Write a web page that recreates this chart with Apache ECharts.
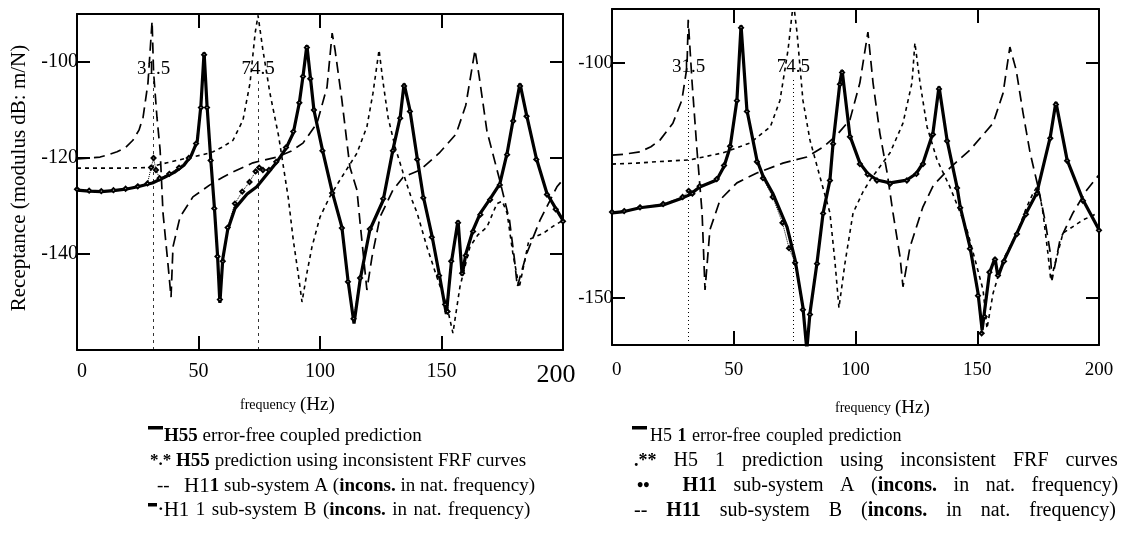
<!DOCTYPE html>
<html><head><meta charset="utf-8">
<script src="https://cdn.jsdelivr.net/npm/echarts@6/dist/echarts.min.js"></script>
<style>html,body{margin:0;padding:0;background:#fff}#c{width:1130px;height:543px}</style>
</head><body><div id="c"></div><script>
// ---------- data (frequency Hz, receptance dB) ----------
const xTicks = [0, 50, 100, 150, 200];
const leftYTicks = [-140, -120, -100];
const rightYTicks = [-150, -100];
const markFreqs = ['31.5', '74.5'];

// Left panel: H55
const h55Exact = [[0,-126.7],[5,-126.9],[10,-127],[15,-126.8],[20,-126.5],[25,-126],[31,-125.2],[36,-124],[40,-123],[44,-121.5],[47,-119.5],[49.5,-116.5],[51,-109],[52.3,-98],[53.5,-109],[55,-120],[56.5,-130],[57.8,-140],[58.8,-150.2],[60,-141],[62,-135],[65,-130.5],[70,-127.5],[74,-126],[78,-123.5],[82,-121],[86,-118],[89,-114.8],[91.5,-108.5],[93,-103],[94.6,-96.5],[96,-103],[97.5,-110],[101,-118.3],[105,-127],[109,-134.4],[111.5,-145.4],[114,-154.5],[116.5,-145.4],[120.5,-135],[126,-128.8],[130,-118.3],[133,-111.5],[134.6,-104.5],[137,-110],[140,-120],[142.5,-128],[146,-136],[149,-144],[152,-152.5],[154,-142],[156.8,-133],[158.5,-144.5],[160,-140],[163,-135],[166,-131.5],[170,-128.5],[174,-125.4],[177,-119],[179.5,-112],[182.3,-104.5],[185,-111],[189,-120],[193.4,-127.4],[197,-130.5],[200,-133]];
const h55Incons = [[0,-126.5],[5,-126.8],[10,-126.9],[15,-126.7],[20,-126.4],[25,-125.9],[29,-125.3],[30.5,-122],[31.5,-120],[32.5,-122.5],[34,-124.2],[38,-123.3],[42,-122],[46,-120],[49,-117],[51,-109.5],[52.3,-98.5],[53.5,-109.5],[55,-120.5],[56.5,-130.5],[57.8,-140.5],[58.8,-149.5],[60,-141.5],[62,-134.5],[65,-129.5],[68,-127],[71,-125],[73.5,-122.8],[75,-122],[76.5,-122.5],[79,-122.5],[82,-120.8],[86,-117.8],[89,-114.5],[91.5,-108.5],[93,-103],[94.6,-97],[96,-103.5],[97.5,-110],[101,-118.5],[105,-127.3],[109,-134.6],[111.5,-145.8],[113.8,-153.5],[116.5,-145],[120.5,-134.8],[126,-128.5],[130,-118.5],[133,-111.7],[134.6,-105],[137,-110.3],[140,-120.3],[142.5,-128.3],[146,-136.5],[149,-144.5],[151.5,-150.5],[152.5,-152],[154,-141.5],[156.8,-133.5],[158.5,-144],[160,-140.3],[163,-135.3],[166,-131.8],[170,-128.7],[174,-125.6],[177,-119.3],[179.5,-112.3],[182.3,-105],[185,-111.3],[189,-120.3],[193.4,-127.6],[197,-130.7],[200,-133.2]];
const h11ALeft = [[0,-122.1],[10,-122.1],[20,-122.1],[28,-122],[32,-121.6],[37,-121],[45.3,-120],[52,-119.3],[56,-118.7],[60,-117.7],[64.2,-116.3],[68.3,-112.1],[71.2,-104.4],[73.3,-94],[74.5,-90.3],[76.5,-97.5],[79.4,-106.5],[83,-115.5],[85,-122],[87,-128.5],[89,-137.1],[91,-144],[92.6,-150],[94.6,-144],[96.7,-138.5],[100,-132.3],[104,-128.1],[108.2,-124.6],[115.2,-119],[119.3,-113.5],[121.8,-106.5],[124.3,-97.5],[126,-104.4],[128,-111.5],[130.9,-117.7],[134.2,-123.1],[137.9,-128.8],[140,-131.5],[144,-138.5],[148.1,-144.8],[152.3,-151],[154.7,-156.5],[157.6,-146.8],[161.7,-138.5],[165,-136],[168.7,-134.4],[172.8,-129.5],[175,-129],[177,-131.5],[179.4,-140],[182,-147],[186,-137],[191.8,-135.7],[196,-134.2],[200,-133]];
const h11BLeft = [[0,-120.2],[5,-120],[9.5,-119.8],[13,-119.3],[16.5,-118.7],[20,-117.8],[23,-116.3],[25.5,-114.2],[27.2,-111.5],[29.2,-104.4],[30.9,-91.5],[31.5,-102],[32.9,-111.5],[34.2,-118.3],[35.4,-131.5],[37.4,-141.9],[38.7,-149],[39.5,-138.5],[42.4,-132.3],[47.7,-128.1],[54.7,-125.6],[60,-124],[64.2,-122.9],[72.4,-121],[82.3,-119.8],[88,-118.6],[93,-116.9],[98.8,-112.7],[102.9,-105.2],[105,-94],[106.2,-97.5],[109,-107.9],[112.3,-121.9],[115.2,-126.7],[116.5,-133.5],[119.3,-147.5],[121.4,-140.6],[124.7,-132.3],[130,-126.7],[134.2,-124],[141.2,-122.5],[149,-119],[156,-115],[160,-109],[163.8,-97.5],[165.5,-103],[168.7,-114.4],[174,-124.7],[178,-133],[180,-141],[181.2,-146.8],[185,-140],[190.5,-133],[197.5,-126],[200,-124.5]];

// Right panel: H51
const h51Exact = [[0,-131.9],[5,-131.6],[11.5,-130.8],[21,-130.2],[29,-128.7],[32,-128],[36,-126.4],[43,-124.9],[46,-122],[48.5,-117.9],[51.3,-107.9],[53,-92],[55.4,-110],[59.5,-120.6],[62,-124],[66,-127.7],[71.9,-134.9],[75.2,-141.9],[78.4,-151.9],[80,-161],[81.3,-153.2],[84.2,-142.5],[86.7,-131.9],[89.5,-124.9],[90.8,-117],[93.6,-104.2],[94.5,-101.5],[97.7,-115.5],[101.8,-121.3],[105,-123.5],[108.8,-124.9],[114.2,-125.5],[121.1,-124.9],[125,-123.5],[127.7,-121.3],[131.8,-114.9],[134.3,-105],[137.6,-116.4],[141.7,-126.4],[143,-130.6],[147,-139.1],[150.3,-148.9],[152,-156.8],[155,-144.7],[157.3,-141.5],[158.5,-145.5],[161,-142],[166.3,-136.2],[170,-132],[174.5,-127.6],[180,-115.7],[182.3,-108.3],[186.9,-120.6],[193.4,-129.1],[200,-135.5]];
const h51Incons = [[0,-131.7],[5,-131.5],[11.5,-130.7],[21,-130],[29,-128.5],[31.5,-127.2],[33,-127.8],[36,-126.2],[43,-124.7],[46,-121.8],[48.5,-117.7],[51.3,-108],[53,-92.5],[55.4,-110.3],[59.5,-121],[62,-124.5],[66,-128.5],[70,-134],[72.7,-139.4],[75.2,-142.5],[78.4,-152.5],[80,-161],[81.3,-153.5],[84.2,-142.7],[86.7,-132],[89.5,-125],[90.8,-117.2],[93.6,-104.5],[94.5,-102],[97.7,-115.7],[101.8,-121.5],[105,-123.7],[108.8,-125],[114.2,-125.7],[121.1,-125],[125,-123.6],[127.7,-121.5],[131.8,-115.2],[134.3,-105.5],[137.6,-116.6],[141.7,-126.6],[143,-130.8],[147,-139.5],[150.3,-149.5],[151.8,-157.5],[153,-154],[155,-144.5],[157.3,-141.8],[158.5,-145.2],[161,-142.2],[166.3,-136.4],[170,-132.2],[174.5,-127.8],[180,-116],[182.3,-108.8],[186.9,-120.8],[193.4,-129.3],[200,-135.6]];
const h11ARight = [[0,-121.5],[10,-121.3],[18.5,-121],[32,-120.6],[45.6,-119.1],[56.7,-117],[65,-113.6],[69,-107.9],[72.3,-97.2],[74.5,-87],[76,-93.6],[78.4,-107.9],[81.3,-116.4],[85.4,-124.2],[89.5,-131.9],[91.6,-142.5],[93.2,-152.1],[95.7,-142.5],[99,-131.9],[103,-127.5],[106,-124.9],[114.2,-119.1],[119.5,-112.8],[123.2,-104.2],[124.4,-95.7],[126.5,-104.2],[129.4,-113.6],[133.5,-120.6],[138.8,-126.4],[142,-130.5],[145.8,-135.5],[149.9,-143.4],[152.4,-148.3],[154,-156.5],[156.5,-149],[160.6,-141.9],[166.3,-136.2],[170,-131],[173,-127.6],[175,-126],[177,-131.9],[179,-140.4],[180.2,-146.2],[185.2,-136.2],[193.4,-133.4],[200,-131.8]];
const h11BRight = [[0,-119.6],[5,-119.4],[11.5,-118.9],[16,-117.8],[19.7,-116.4],[25,-112.8],[28.7,-107.9],[30.8,-100.8],[31.3,-90.8],[32.9,-104.2],[34.9,-118.5],[37,-131.9],[38.2,-148.3],[40.2,-135.5],[44.4,-129.1],[51.3,-125.5],[59.5,-123.4],[70.2,-121.3],[80,-120],[86.7,-117.9],[92,-115.5],[97.7,-112.1],[101.8,-104.2],[105.1,-93.4],[107.2,-104.2],[110,-114.9],[113,-123.4],[115.4,-131.9],[118.3,-141.3],[119.5,-147.6],[122.4,-139.1],[127.7,-130.6],[132,-126],[138.8,-122.3],[147,-118.5],[156.5,-112.8],[160.6,-106.4],[163.4,-96.6],[166,-101.5],[168.8,-110.6],[171.7,-119.1],[175,-126.4],[177.8,-133.4],[180,-140.4],[180.7,-146.2],[184,-137.6],[189.3,-131.9],[195,-127],[200,-123.8]];

// ---------- chart ----------
const SERIF = '"Liberation Serif","Times New Roman",serif';
const BLACK = '#000';
const chart = echarts.init(document.getElementById('c'), null, {renderer: 'canvas'});

function xAxisCfg(grid, pos, showLabel, fs, margin, bigMax) {
  return {
    type: 'value', gridIndex: grid, position: pos, min: 0, max: 200, interval: 50,
    axisLine: {show: true, onZero: false, lineStyle: {color: BLACK, width: 2}},
    axisTick: {show: true, inside: true, length: 14, customValues: xTicks, lineStyle: {color: BLACK, width: 2}},
    axisLabel: {show: showLabel, customValues: xTicks, color: BLACK, fontFamily: SERIF, fontSize: fs, margin: margin,
      alignMinLabel: 'left',
      formatter: v => (bigMax && v === 200) ? '{big|200}' : String(v),
      rich: {big: {fontSize: 26, fontFamily: SERIF, color: BLACK, padding: [0, 14, 0, 0]}}},
    splitLine: {show: false}
  };
}
function yAxisCfg(grid, pos, showLabel, mn, mx, ticks, fs) {
  return {
    type: 'value', gridIndex: grid, position: pos, min: mn, max: mx, interval: 10,
    axisLine: {show: true, onZero: false, lineStyle: {color: BLACK, width: 2}},
    axisTick: {show: true, inside: true, length: 13, customValues: ticks, lineStyle: {color: BLACK, width: 2}},
    axisLabel: {show: showLabel, customValues: ticks, color: BLACK, fontFamily: SERIF, fontSize: fs, margin: -1},
    splitLine: {show: false}
  };
}
function curve(xi, data, style) {
  return Object.assign({type: 'line', xAxisIndex: xi, yAxisIndex: xi, data: data, symbol: 'none',
    silent: true, animation: false, clip: true}, style);
}
function marks(freqStrs, topDb, lineType, lw) {
  return {
    silent: true, symbol: ['none', 'none'], animation: false,
    lineStyle: {color: BLACK, type: lineType, width: lw},
    data: freqStrs.map(s => [
      {coord: [Number(s), -160], label: {show: true, position: 'end', formatter: s, distance: 3,
        color: BLACK, fontFamily: SERIF, fontSize: 19}},
      {coord: [Number(s), topDb]}
    ])
  };
}

const solidStyle = {lineStyle: {color: BLACK, width: 3.2}, z: 5};
const inconsStyle = {symbol: 'emptyDiamond', symbolSize: 4, showSymbol: true,
  itemStyle: {color: BLACK, borderColor: BLACK, borderWidth: 1},
  lineStyle: {color: BLACK, width: 1, type: 'dotted'}, z: 6};
const aStyle = {lineStyle: {color: BLACK, width: 1.6, type: [4, 4]}, z: 3};
const bStyle = {lineStyle: {color: BLACK, width: 1.7, type: [11, 6]}, z: 4};

// legend helpers (rich text, spaces become tokens of fixed width)
function rich(segs) {
  return segs.map(([st, t]) => t.split(' ').map((w, i) => (i ? '{sp| }' : '') + (w ? '{' + st + '|' + w + '}' : '')).join('')).join('');
}
function richStyles(fs, spW) {
  return {
    n: {fontSize: fs, fontFamily: SERIF, color: BLACK},
    b: {fontSize: fs, fontFamily: SERIF, color: BLACK, fontWeight: 'bold'},
    h: {fontSize: fs + 2, fontFamily: SERIF, color: BLACK},
    m: {fontSize: fs - 2, fontFamily: SERIF, color: BLACK, fontWeight: 'bold'},
    sp: {fontSize: fs, fontFamily: SERIF, width: spW},
    s: {fontSize: 14, fontFamily: SERIF, color: BLACK},
    L: {fontSize: 19, fontFamily: SERIF, color: BLACK}
  };
}
function txt(x, y, segs, fs, spW) {
  return {type: 'text', x: x, y: y, silent: true,
    style: {text: rich(segs), rich: richStyles(fs, spW), align: 'left', verticalAlign: 'middle', fill: BLACK}};
}
function bar(x, y, w, h) {
  return {type: 'rect', silent: true, shape: {x: x, y: y, width: w, height: h}, style: {fill: BLACK}};
}

const LFS = 19, LSP = 4.8;
const graphics = [
  // axis titles
  {type: 'text', x: 19, y: 178, rotation: Math.PI / 2, silent: true,
    style: {text: 'Receptance (modulus dB: m/N)', font: '21px ' + SERIF, fill: BLACK, align: 'center', verticalAlign: 'middle'}},
  txt(240, 405, [['s', 'frequency'], ['n', ' '], ['L', '(Hz)']], 14, 4),
  txt(835, 408, [['s', 'frequency'], ['n', ' '], ['L', '(Hz)']], 14, 4),
  // left legend
  bar(148, 426, 15, 3.5),
  txt(164, 436, [['b', 'H55'], ['n', ' error-free coupled prediction']], LFS, LSP),
  txt(150, 461, [['m', '*.*'], ['n', ' '], ['b', 'H55'], ['n', ' prediction using inconsistent FRF curves']], LFS, LSP),
  txt(157, 486, [['n', '--'], ['n', '   '], ['h', 'H1'], ['b', '1'], ['n', ' sub-system A ('], ['b', 'incons.'], ['n', ' in nat. frequency)']], LFS, LSP),
  bar(148, 503, 9, 3.5),
  txt(158, 510, [['m', '\u00b7'], ['h', 'H1'], ['n', ' 1 sub-system B ('], ['b', 'incons.'], ['n', ' in nat. frequency)']], LFS, 6.5),
  // right legend
  bar(632, 426, 15, 3.5),
  txt(650, 436, [['n', 'H5 '], ['b', '1'], ['n', ' error-free coupled prediction']], 18, 5.5),
  txt(634, 461, [['m', '.**'], ['n', ' H5 1 prediction using inconsistent FRF curves']], 20, 17),
  txt(637, 486, [['m', '\u2022\u2022'], ['n', '  '], ['b', 'H11'], ['n', ' sub-system A ('], ['b', 'incons.'], ['n', ' in nat. frequency)']], 20, 16.5),
  txt(634, 511, [['n', '--'], ['n', ' '], ['b', 'H11'], ['n', ' sub-system B ('], ['b', 'incons.'], ['n', ' in nat. frequency)']], 20, 19)
];

const option = {
  backgroundColor: '#fff',
  animation: false,
  grid: [
    {left: 77, top: 14, width: 486, height: 336},
    {left: 612, top: 9, width: 487, height: 336}
  ],
  xAxis: [
    xAxisCfg(0, 'bottom', true, 20, 12, true),
    xAxisCfg(1, 'bottom', true, 19, 16, false),
    xAxisCfg(0, 'top', false, 20, 12, false),
    xAxisCfg(1, 'top', false, 19, 16, false)
  ],
  yAxis: [
    yAxisCfg(0, 'left', true, -160, -90, leftYTicks, 20),
    yAxisCfg(1, 'left', true, -160, -88.5, rightYTicks, 19),
    yAxisCfg(0, 'right', false, -160, -90, leftYTicks, 20),
    yAxisCfg(1, 'right', false, -160, -88.5, rightYTicks, 19)
  ],
  series: [
    curve(0, h11ALeft, Object.assign({name: 'H11 sub-system A', markLine: marks(markFreqs, -104, [3, 4], 0.8)}, aStyle)),
    curve(0, h11BLeft, Object.assign({name: 'H11 sub-system B'}, bStyle)),
    curve(0, h55Exact, Object.assign({name: 'H55 error-free'}, solidStyle)),
    curve(0, h55Incons, Object.assign({name: 'H55 inconsistent'}, inconsStyle)),
    curve(1, h11ARight, Object.assign({name: 'H11 sub-system A', markLine: marks(markFreqs, -103.5, [1, 3], 1)}, aStyle)),
    curve(1, h11BRight, Object.assign({name: 'H11 sub-system B'}, bStyle)),
    curve(1, h51Exact, Object.assign({name: 'H51 error-free'}, solidStyle)),
    curve(1, h51Incons, Object.assign({name: 'H51 inconsistent'}, inconsStyle))
  ],
  graphic: graphics
};
chart.setOption(option);
</script></body></html>
